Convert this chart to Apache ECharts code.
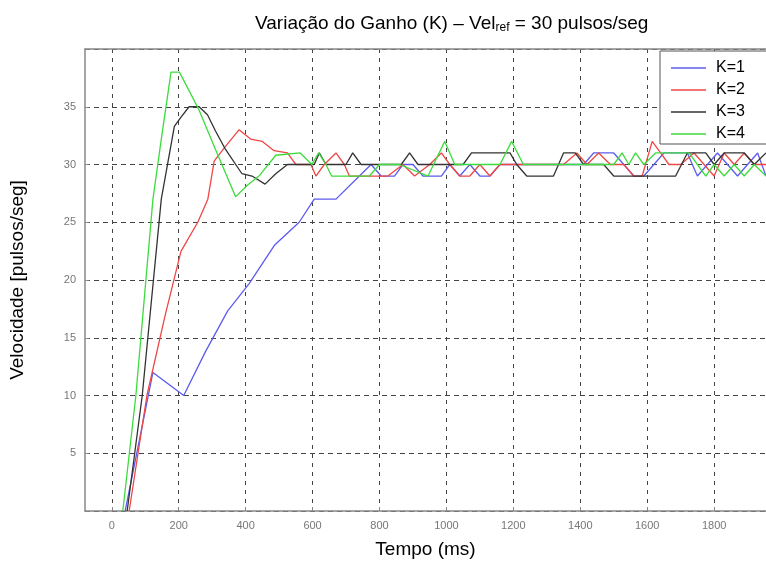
<!DOCTYPE html>
<html>
<head>
<meta charset="utf-8">
<script src="https://cdn.jsdelivr.net/npm/echarts@6/dist/echarts.min.js"></script>
<style>
  html, body { margin: 0; padding: 0; background: #fff; }
  #main { width: 766px; height: 564px; }
</style>
</head>
<body>
<div id="main"></div>
<script>
// tempo (ms) e velocidade (pulsos/seg), um par de listas por ganho
let k1Tempo = [40, 123, 215, 280, 346, 411, 486, 560, 605, 670, 740, 775, 805, 845, 870, 900, 930, 960, 985, 1010, 1040, 1070, 1100, 1130, 1160, 1190, 1220, 1250, 1280, 1320, 1350, 1380, 1410, 1440, 1470, 1500, 1530, 1560, 1590, 1620, 1650, 1680, 1720, 1750, 1780, 1810, 1840, 1870, 1900, 1930, 1955];
let k1Vel   = [0, 12, 10, 13.8, 17.3, 19.7, 23, 25, 27, 27, 29, 30, 29, 29, 30, 30, 29, 29, 29, 30, 29, 30, 29, 29, 30, 30, 30, 30, 30, 30, 30, 30, 30, 31, 31, 31, 30, 29, 29, 30, 31, 31, 31, 29, 30, 31, 30, 29, 30, 31, 29];

let k2Tempo = [52, 105, 160, 207, 257, 287, 306, 335, 380, 415, 450, 485, 525, 550, 595, 610, 635, 670, 695, 710, 760, 825, 870, 905, 950, 985, 1010, 1040, 1070, 1100, 1130, 1160, 1190, 1220, 1250, 1300, 1350, 1390, 1420, 1455, 1490, 1530, 1560, 1585, 1615, 1640, 1665, 1700, 1740, 1770, 1800, 1830, 1860, 1890, 1920, 1955];
let k2Vel   = [0, 10, 17, 22.5, 25, 27, 30.3, 31.4, 33, 32.2, 32, 31.2, 31, 30, 30, 29, 30, 31, 30, 29, 29, 29, 30, 29, 30, 31, 30, 29, 29, 30, 29, 30, 30, 30, 30, 30, 30, 31, 30, 31, 30, 30, 29, 29, 32, 31, 30, 30, 31, 30, 29, 31, 30, 31, 30, 30];

let k3Tempo = [46, 91, 148, 187, 207, 231, 261, 286, 310, 340, 389, 419, 458, 490, 525, 605, 620, 640, 700, 720, 745, 865, 890, 915, 1050, 1075, 1190, 1210, 1240, 1320, 1350, 1385, 1410, 1440, 1470, 1500, 1515, 1570, 1685, 1720, 1775, 1800, 1830, 1860, 1890, 1920, 1955];
let k3Vel   = [0, 10, 27, 33.3, 34.1, 35, 35, 34.3, 32.9, 31.3, 29.2, 29, 28.3, 29.2, 30, 30, 31, 30, 30, 31, 30, 30, 31, 30, 30, 31, 31, 30, 29, 29, 31, 31, 30, 30, 30, 29, 29, 29, 29, 31, 31, 30, 31, 31, 31, 30, 31];

let k4Tempo = [33, 72, 123, 148, 177, 202, 231, 261, 310, 370, 405, 440, 490, 563, 598, 618, 640, 657, 700, 730, 770, 800, 830, 860, 945, 995, 1025, 1060, 1090, 1130, 1160, 1195, 1230, 1500, 1525, 1545, 1565, 1590, 1625, 1725, 1750, 1775, 1800, 1830, 1860, 1890, 1920, 1955];
let k4Vel   = [0, 10, 27, 32.2, 38, 38, 36.4, 34.7, 31.3, 27.2, 28.2, 29, 30.8, 31, 30, 31, 30, 29, 29, 29, 29, 30, 30, 30, 29, 32, 30, 30, 30, 30, 30, 32, 30, 30, 31, 30, 31, 30, 31, 31, 30, 29, 30, 29, 30, 29, 30, 29];

let ganhos = ['K=1', 'K=2', 'K=3', 'K=4'];
let cores = ['#5c5cf0', '#f04646', '#333333', '#3cdc3c'];
let tempoTicks = [0, 200, 400, 600, 800, 1000, 1200, 1400, 1600, 1800];

function pares(t, v) {
  let arr = [];
  for (let i = 0; i < t.length; i++) {
    arr.push([t[i], v[i]]);
  }
  return arr;
}

let tempos = [k1Tempo, k2Tempo, k3Tempo, k4Tempo];
let vels = [k1Vel, k2Vel, k3Vel, k4Vel];

let chart = echarts.init(document.getElementById('main'), null, { renderer: 'canvas' });

let series = [];
for (let i = 0; i < ganhos.length; i++) {
  series.push({
    name: ganhos[i],
    type: 'line',
    symbol: 'none',
    data: pares(tempos[i], vels[i]),
    lineStyle: { width: 1.3, color: cores[i] },
    itemStyle: { color: cores[i] }
  });
}

let option = {
  animation: false,
  backgroundColor: '#fff',
  title: {
    text: '{a|Variação do Ganho (K) – Vel}{s|ref}{a| = 30 pulsos/seg}',
    left: 250,
    top: 9,
    textStyle: {
      rich: {
        a: { fontFamily: 'Liberation Sans', fontSize: 19, fontWeight: 'normal', color: '#000' },
        s: { fontFamily: 'Liberation Sans', fontSize: 12, fontWeight: 'normal', color: '#000', padding: [8, 0, 0, 0] }
      }
    }
  },
  legend: {
    orient: 'vertical',
    left: 660,
    top: 51,
    icon: 'rect',
    itemWidth: 35,
    itemHeight: 1.5,
    itemGap: 6,
    padding: [9, 40, 2, 11],
    backgroundColor: '#fff',
    borderColor: '#555',
    borderWidth: 1,
    borderRadius: 0,
    textStyle: { fontFamily: 'Liberation Sans', fontSize: 16, color: '#000', padding: [0, 0, 0, 5] },
    data: ganhos
  },
  grid: { left: 84, right: 0, top: 49, bottom: 49 },
  xAxis: [{
    type: 'value',
    min: -80,
    max: 1955,
    name: 'Tempo (ms)',
    nameLocation: 'middle',
    nameGap: 29,
    nameTextStyle: { fontFamily: 'Liberation Sans', fontSize: 19, color: '#000' },
    axisLine: { show: true, onZero: false, lineStyle: { color: '#888', width: 1.5 } },
    axisTick: { show: true, inside: true, length: 4, customValues: tempoTicks, lineStyle: { color: '#888' } },
    axisLabel: {
      customValues: tempoTicks,
      margin: 9,
      fontFamily: 'Liberation Sans',
      fontSize: 11,
      color: '#777',
      formatter: function (v) { return String(v); }
    },
    splitLine: { show: true, lineStyle: { color: '#444', type: [4, 5], width: 1 } }
  }, {
    type: 'value',
    position: 'top',
    min: -80,
    max: 1955,
    axisLine: { show: true, onZero: false, lineStyle: { color: '#888', width: 1.5 } },
    axisTick: { show: false },
    axisLabel: { show: false },
    splitLine: { show: false }
  }],
  yAxis: {
    type: 'value',
    min: 0,
    max: 40,
    interval: 5,
    name: 'Velocidade [pulsos/seg]',
    nameLocation: 'middle',
    nameGap: 58,
    nameTextStyle: { fontFamily: 'Liberation Sans', fontSize: 19, color: '#000' },
    axisLine: { show: true, onZero: false, lineStyle: { color: '#888', width: 1.5 } },
    axisTick: { show: true, inside: true, length: 4, lineStyle: { color: '#888' } },
    axisLabel: {
      margin: 9,
      fontFamily: 'Liberation Sans',
      fontSize: 11,
      color: '#777',
      formatter: function (v) { return (v === 0 || v === 40) ? '' : String(v); }
    },
    splitLine: { show: true, lineStyle: { color: '#444', type: [5, 4], width: 1 } }
  },
  series: series
};

chart.setOption(option);
</script>
</body>
</html>
